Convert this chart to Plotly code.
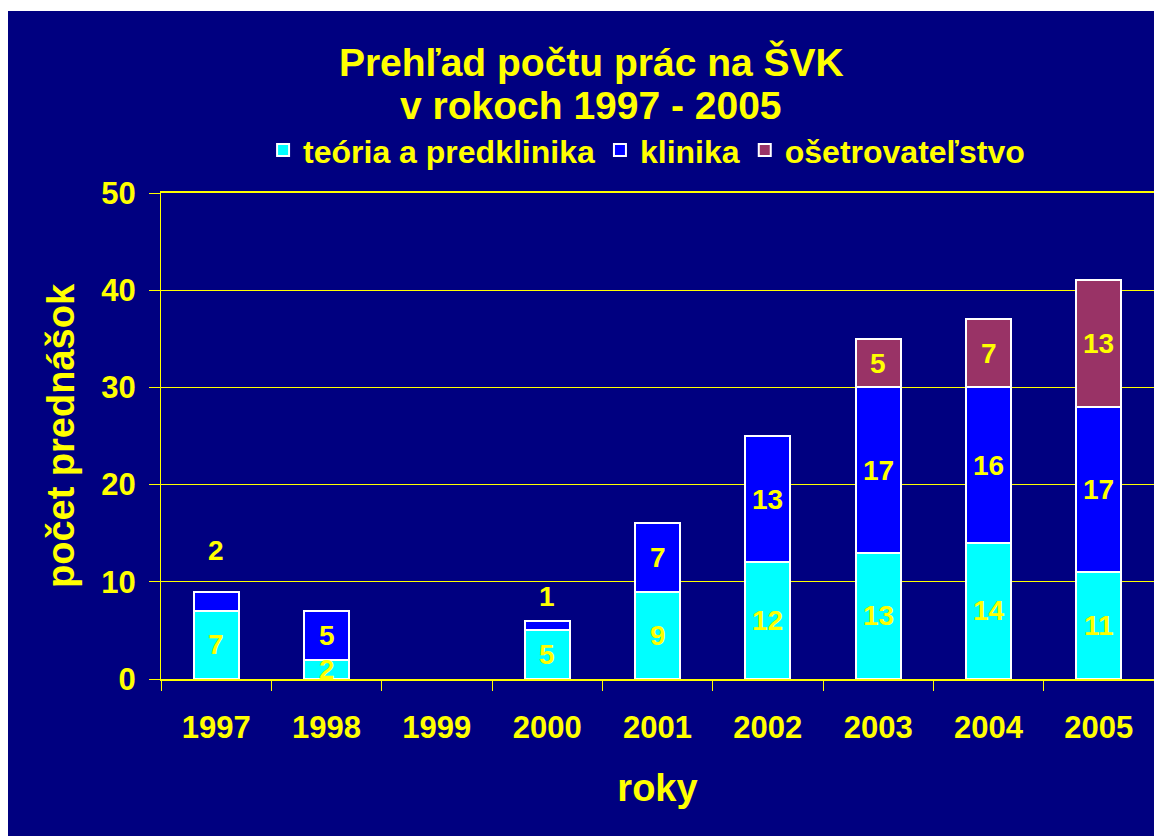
import plotly.graph_objects as go

years = ["1997", "1998", "1999", "2000", "2001", "2002", "2003", "2004", "2005"]
teoria = [7, 2, None, 5, 9, 12, 13, 14, 11]
klinika = [2, 5, None, 1, 7, 13, 17, 16, 17]
osetrovatelstvo = [None, None, None, None, None, None, 5, 7, 13]

series = [
    ("teória a predklinika", teoria, "#00FFFF"),
    ("klinika", klinika, "#0000FF"),
    ("ošetrovateľstvo", osetrovatelstvo, "#993366"),
]

# labels that Excel pushed above the bar (pixel lift above the bar top)
lifted = {("klinika", "1997"): 41, ("klinika", "2000"): 24}

NAVY = "#000080"
YELLOW = "#FFFF00"
FONT = "Liberation Sans, Arial, sans-serif"

fig = go.Figure()

for name, vals, colour in series:
    fig.add_bar(
        x=years,
        y=vals,
        name=name,
        marker_color=colour,
        marker_line=dict(color="white", width=2),
        width=0.41,
    )

# data labels (x given as category index)
base = [0] * len(years)
for name, vals, colour in series:
    for i, v in enumerate(vals):
        if v is None:
            continue
        key = (name, years[i])
        if key in lifted:
            y, shift = base[i] + v, lifted[key]
        else:
            y, shift = base[i] + v / 2, 0
        fig.add_annotation(
            x=i, y=y, yshift=shift, text=str(v), showarrow=False,
            font=dict(family=FONT, size=28, color=YELLOW, weight="bold"),
        )
        base[i] += v

fig.add_annotation(
    text="v rokoch 1997 - 2005", xref="paper", yref="paper",
    x=0.433, y=1.181, xanchor="center", yanchor="middle", showarrow=False,
    font=dict(family=FONT, size=39, color=YELLOW, weight="bold"),
)

# thin white strip along the top of the slide crop
fig.add_shape(type="rect", xref="paper", yref="paper", x0=-0.2, x1=1.1,
              y0=1.3745, y1=1.42, fillcolor="white", line_width=0, layer="below")

fig.update_layout(
    width=1162,
    height=836,
    barmode="stack",
    paper_bgcolor=NAVY,
    plot_bgcolor=NAVY,
    margin=dict(l=153, r=16, t=185, b=165),
    title=dict(
        text="Prehľad počtu prác na ŠVK",
        x=0.502, xanchor="center", y=1 - 54 / 836, yanchor="middle",
        font=dict(family=FONT, size=39, color=YELLOW, weight="bold"),
    ),
    legend=dict(
        orientation="h", x=0.489, xanchor="center", y=1.088, yanchor="middle",
        traceorder="normal", bgcolor="rgba(0,0,0,0)",
        font=dict(family=FONT, size=32, color=YELLOW, weight="bold"),
    ),
    showlegend=True,
)

fig.update_xaxes(
    type="category",
    range=[-0.5, len(years) - 0.5],
    tickson="boundaries",
    ticks="outside", ticklen=10, tickcolor=YELLOW, tickwidth=1,
    showline=True, linecolor=YELLOW, linewidth=2, mirror=True,
    showgrid=False,
    ticklabelstandoff=20,
    tickangle=0,
    tickfont=dict(family=FONT, size=31, color=YELLOW, weight="bold"),
    title=dict(text="roky", standoff=30,
               font=dict(family=FONT, size=38, color=YELLOW, weight="bold")),
)

fig.update_yaxes(
    range=[0, 50], dtick=10,
    ticks="outside", ticklen=11, tickcolor=YELLOW, tickwidth=1,
    showline=True, linecolor=YELLOW, linewidth=1, mirror=True,
    showgrid=True, gridcolor=YELLOW, gridwidth=1, zeroline=False,
    ticklabelstandoff=7,
    tickfont=dict(family=FONT, size=31, color=YELLOW, weight="bold"),
    title=dict(text="počet prednášok", standoff=15,
               font=dict(family=FONT, size=38, color=YELLOW, weight="bold")),
)

fig.write_html("out.html")
